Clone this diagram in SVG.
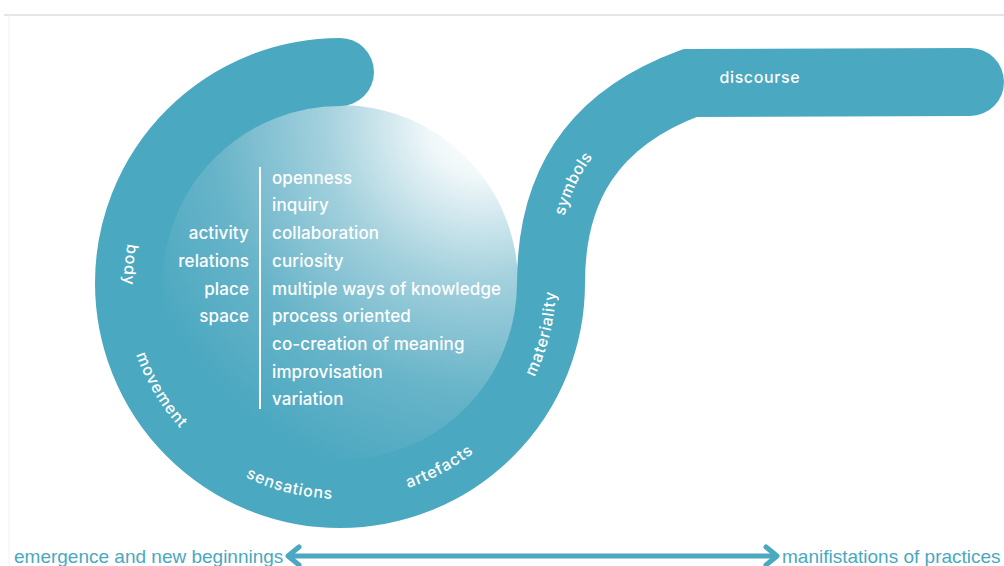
<svg xmlns="http://www.w3.org/2000/svg" width="1004" height="566" viewBox="0 0 1004 566">
  <style>
    .band { fill: none; stroke: #4aa8c0; stroke-width: 68; stroke-linecap: round; stroke-linejoin: miter; }
    .inner { font-family: Inter, "Liberation Sans", sans-serif; font-size: 17px; font-weight: 500; fill: #ffffff; letter-spacing: 0.1px; }
    .arc-label { font-family: Inter, "Liberation Sans", sans-serif; font-size: 16px; font-weight: 500; fill: #ffffff; letter-spacing: 0.6px; }
    .axis-label { font-family: "Liberation Sans", Arial, sans-serif; font-size: 19px; fill: #4aa8c0; }
    .axis { fill: none; stroke: #4aa8c0; stroke-width: 5; stroke-linecap: round; stroke-linejoin: round; }
    .frame { stroke: #dcdcdc; stroke-width: 1.5; }
  </style>
  <defs>
    <!-- centreline of the spiral band: circle round the left, then the S-bend up to the right -->
    <path id="spine" d="M 340 72 A 211 211 0 1 0 551 283 C 551 190 590 120 690 83 L 970 82"/>
    <radialGradient id="glow" cx="0.9" cy="0.05" r="1.05" fx="0.9" fy="0.05">
      <stop offset="0" stop-color="#ffffff"/>
      <stop offset="0.14" stop-color="#f1f8fa"/>
      <stop offset="0.42" stop-color="#a4d1dd"/>
      <stop offset="0.72" stop-color="#68b4c9"/>
      <stop offset="1" stop-color="#4aa8c0"/>
    </radialGradient>
  </defs>

  <rect x="0" y="0" width="1004" height="566" fill="#ffffff"/>
  <line class="frame" x1="4" y1="15" x2="1004" y2="15"/>
  <line x1="9" y1="15" x2="9" y2="566" stroke="#f2f2f2" stroke-width="1"/>

  <!-- inner disc with soft light -->
  <g id="core">
    <circle cx="340" cy="283" r="178" fill="url(#glow)"/>
  </g>

  <!-- the band itself -->
  <g id="band">
    <use href="#spine" class="band"/>
  </g>

  <!-- labels running along the band -->
  <g id="band-labels" class="arc-label" text-anchor="middle">
    <text dy="5"><textPath href="#spine" startOffset="313">body</textPath></text>
    <text dy="5"><textPath href="#spine" startOffset="445">movement</textPath></text>
    <text dy="5"><textPath href="#spine" startOffset="611">sensations</textPath></text>
    <text dy="5"><textPath href="#spine" startOffset="767">artefacts</textPath></text>
    <text dy="5"><textPath href="#spine" startOffset="942">materiality</textPath></text>
    <text dy="5"><textPath href="#spine" startOffset="1097">symbols</textPath></text>
    <text dy="0"><textPath href="#spine" startOffset="1326">discourse</textPath></text>
  </g>

  <!-- contents of the disc -->
  <g id="contexts" class="inner" text-anchor="end">
    <text x="249" y="239">activity</text>
    <text x="249" y="267">relations</text>
    <text x="249" y="295">place</text>
    <text x="249" y="322">space</text>
  </g>
  <line id="divider" x1="260" y1="167" x2="260" y2="409" stroke="#ffffff" stroke-width="2"/>
  <g id="qualities" class="inner">
    <text x="272" y="184">openness</text>
    <text x="272" y="211">inquiry</text>
    <text x="272" y="239">collaboration</text>
    <text x="272" y="267">curiosity</text>
    <text x="272" y="295">multiple ways of knowledge</text>
    <text x="272" y="322">process oriented</text>
    <text x="272" y="350">co-creation of meaning</text>
    <text x="272" y="378">improvisation</text>
    <text x="272" y="405">variation</text>
  </g>

  <!-- axis along the bottom -->
  <g id="connectors">
    <line class="axis" x1="290" y1="556" x2="775" y2="556"/>
    <path class="axis" d="M 299 547 L 288 556 L 299 565"/>
    <path class="axis" d="M 766 547 L 777 556 L 766 565"/>
  </g>
  <g id="axis-start">
    <text class="axis-label" x="14" y="563">emergence and new beginnings</text>
  </g>
  <g id="axis-end">
    <text class="axis-label" x="782" y="563">manifistations of practices</text>
  </g>
</svg>
